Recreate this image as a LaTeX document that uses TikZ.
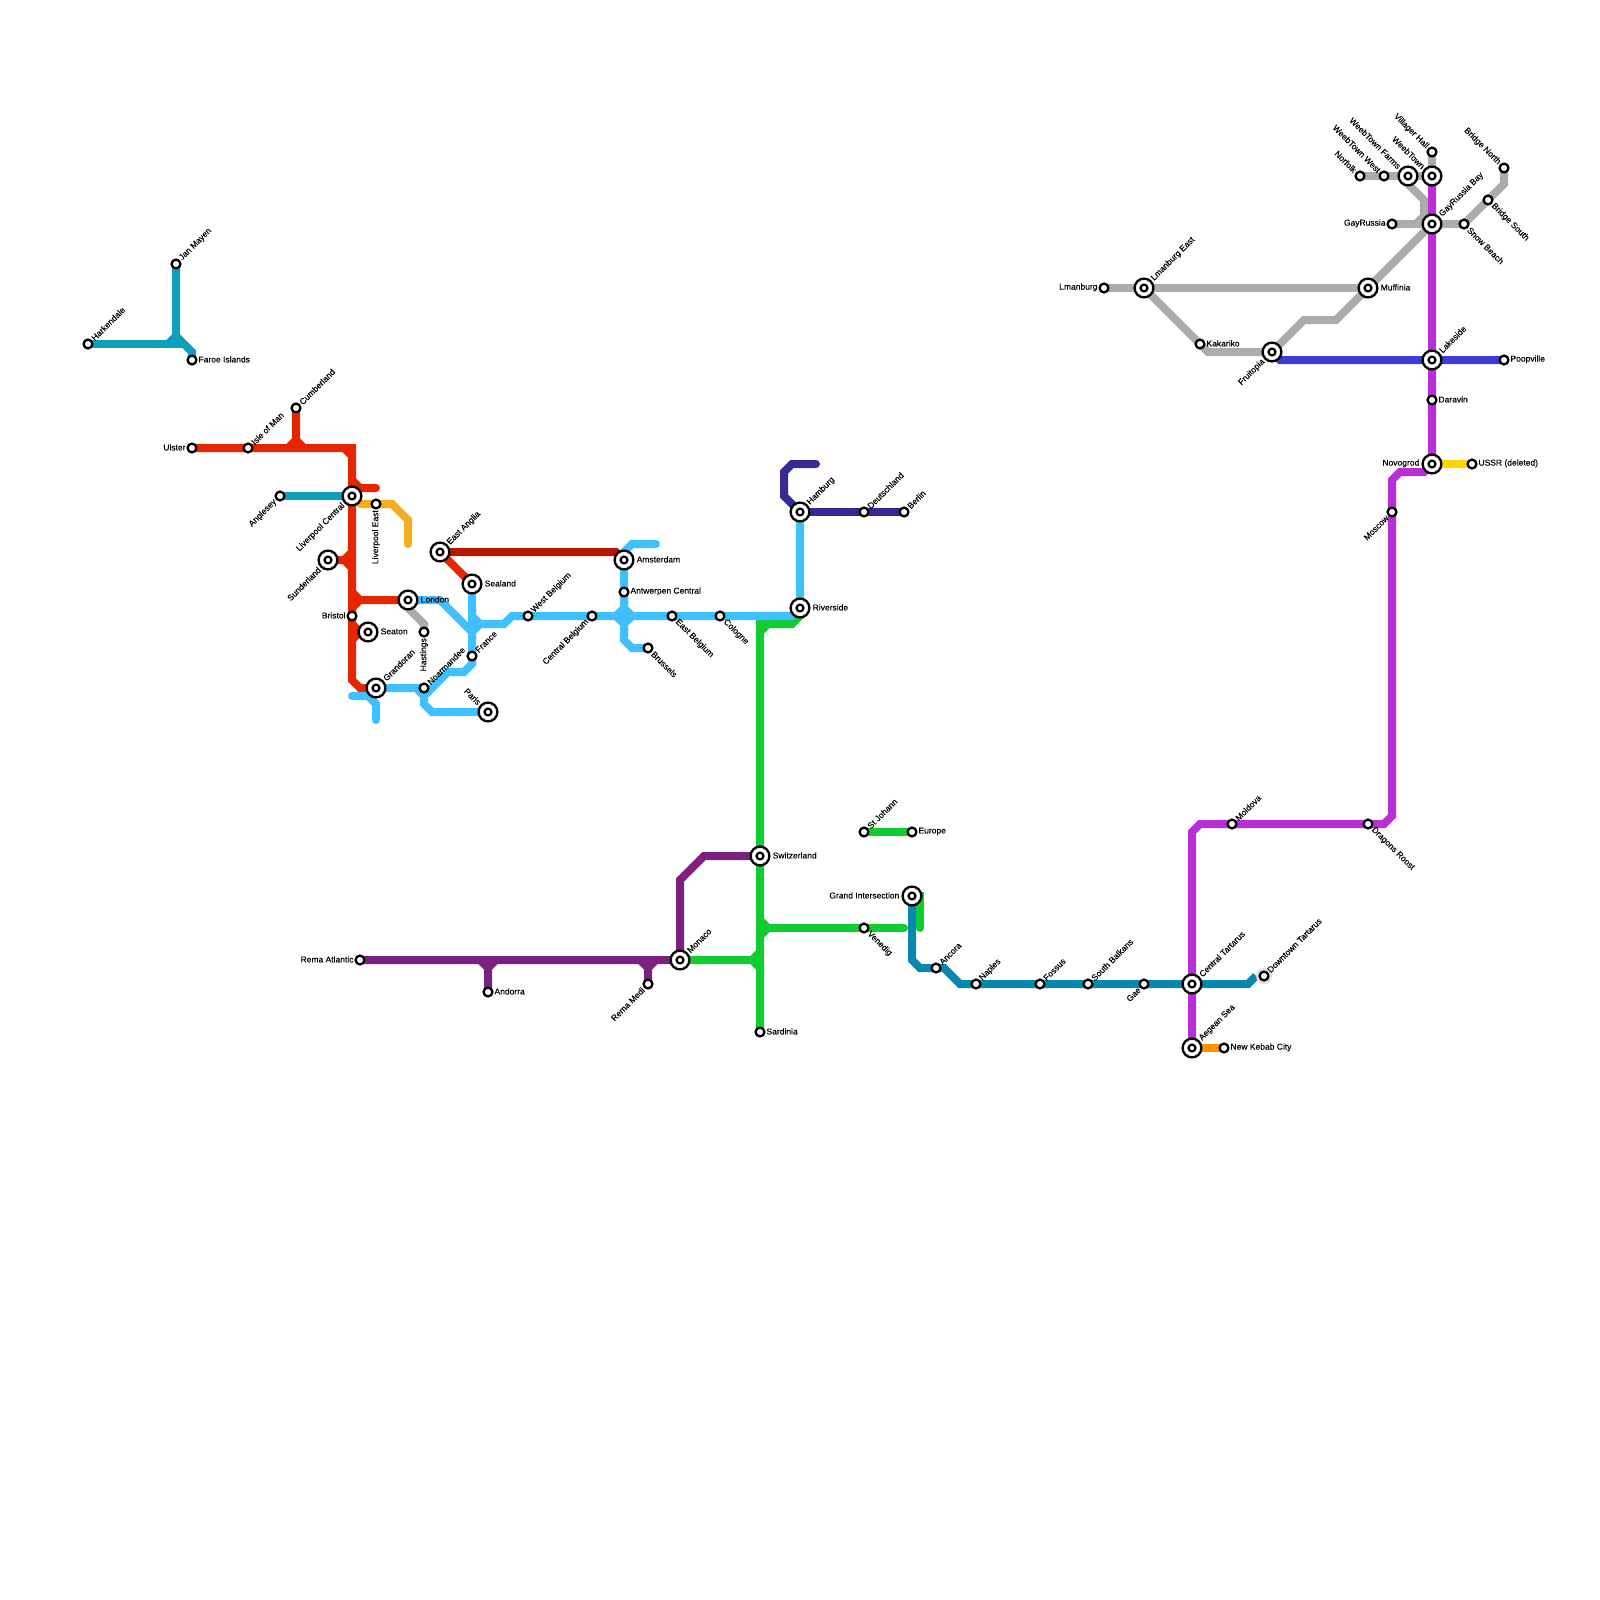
\documentclass[tikz,border=0pt]{standalone}
\usepackage{fontspec}
\setmainfont{Liberation Sans}[FakeBold=0.15]
\usetikzlibrary{backgrounds}
\definecolor{cteal}{RGB}{12,160,187}
\definecolor{cred}{RGB}{230,38,0}
\definecolor{cdred}{RGB}{180,25,0}
\definecolor{camber}{RGB}{245,175,30}
\definecolor{csky}{RGB}{64,192,255}
\definecolor{cgrey}{RGB}{172,172,172}
\definecolor{cnavy}{RGB}{52,45,143}
\definecolor{cgreen}{RGB}{18,204,52}
\definecolor{cplum}{RGB}{122,33,128}
\definecolor{csteel}{RGB}{10,135,175}
\definecolor{cmag}{RGB}{185,47,214}
\definecolor{croyal}{RGB}{60,60,210}
\definecolor{cyell}{RGB}{255,212,0}
\definecolor{corange}{RGB}{255,146,0}

\begin{document}
\begin{tikzpicture}[
  x=1pt,y=-1pt,
  stn/.style={draw=black,circle,fill=white,line width=2.3pt,minimum size=8.8pt,inner sep=0pt},
  hub/.style={stn,minimum size=18.8pt,
    path picture={\draw[line width=2.3pt] (path picture bounding box.center) circle (3.4pt);}},
  halo/.style={circle,fill=black!13,minimum size=16pt,inner sep=0pt},
  lab/.style={font=\fontsize{8.5}{10}\selectfont,inner sep=0pt,text=black},
  lbe/.style={lab,anchor=west,xshift=#1,yshift=.6pt},
  lbe/.default=6.3pt,
  lbw/.style={lab,anchor=east,xshift=-#1,yshift=.6pt},
  lbw/.default=6.3pt,
  lbne/.style={lab,rotate=45,anchor=west,xshift=#1},
  lbne/.default=6.6pt,
  lbse/.style={lab,rotate=-45,anchor=west,xshift=#1},
  lbse/.default=6.6pt,
  lbsw/.style={lab,rotate=45,anchor=east,xshift=-#1},
  lbsw/.default=6.6pt,
  lbnw/.style={lab,rotate=-45,anchor=east,xshift=-#1},
  lbnw/.default=6.6pt,
  lbv/.style={lab,rotate=90,anchor=east,xshift=-6pt},
  ln/.style={line width=8pt},
  stub/.style={ln,line cap=round}
]
\useasboundingbox (0,0) rectangle (1600,1600);

% north west
\node[stn] (hark) at (88,344) {};      \node[lbne] (harkl) at (hark) {Harkendale};
\node[stn] (jan) at (176,264) {};      \node[lbne] (janl) at (jan) {Jan Mayen};
\node[stn] (faroe) at (192,360) {};    \node[lbe] (faroel) at (faroe) {Faroe Islands};
\node[stn] (ulster) at (192,448) {};   \node[lbw] (ulsterl) at (ulster) {Ulster};
\node[stn] (isle) at (248,448) {};     \node[lbne] (islel) at (isle) {Isle of Man};
\node[stn] (cumb) at (296,408) {};     \node[lbne] (cumbl) at (cumb) {Cumberland};
\node[stn] (angl) at (280,496) {};     \node[lbsw] (angll) at (angl) {Anglesey};
\node[hub] (livc) at (352,496) {};     \node[lbsw=12pt] (livcl) at (livc) {Liverpool Central};
\node[stn] (live) at (376,504) {};     \node[lbv] (livel) at (live) {Liverpool East};
\node[hub] (sund) at (328,560) {};     \node[lbsw=12pt] (sundl) at (sund) {Sunderland};
\node[hub] (london) at (408,600) {};   \node[lbe=12.5pt] (londonl) at (london) {London};
\node[stn] (bristol) at (352,616) {};  \node[lbw] (bristoll) at (bristol) {Bristol};
\node[hub] (seat) at (368,632) {};     \node[lbe=12.5pt] (seatl) at (seat) {Seaton};
\node[stn] (hast) at (424,632) {};     \node[lbv] (hastl) at (hast) {Hastings};
\node[hub] (grand) at (376,688) {};    \node[lbne=12pt] (grandl) at (grand) {Grandoran};
\node[stn] (norm) at (424,688) {};     \node[lbne] (norml) at (norm) {Noarmandee};
\node[hub] (paris) at (488,712) {};    \node[lbnw=12pt] (parisl) at (paris) {Paris};
\node[hub] (eang) at (440,552) {};     \node[lbne=12pt] (eangl) at (eang) {East Anglia};
\node[hub] (seal) at (472,584) {};     \node[lbe=12.5pt] (seall) at (seal) {Sealand};
\node[stn] (france) at (472,656) {};   \node[lbne] (francel) at (france) {France};
\node[stn] (wbel) at (528,616) {};     \node[lbne] (wbell) at (wbel) {West Belgium};
\node[stn] (cbel) at (592,616) {};     \node[lbsw] (cbell) at (cbel) {Central Belgium};
\node[hub] (amst) at (624,560) {};     \node[lbe=12.5pt] (amstl) at (amst) {Amsterdam};
\node[stn] (antw) at (624,592) {};     \node[lbe] (antwl) at (antw) {Antwerpen Central};
\node[stn] (brus) at (648,648) {};     \node[lbse] (brusl) at (brus) {Brussels};
\node[stn] (ebel) at (672,616) {};     \node[lbse] (ebell) at (ebel) {East Belgium};
\node[stn] (colg) at (720,616) {};     \node[lbse] (colgl) at (colg) {Cologne};
\node[hub] (river) at (800,608) {};    \node[lbe=12.5pt] (riverl) at (river) {Riverside};
\node[hub] (hamb) at (800,512) {};     \node[lbne=12pt] (hambl) at (hamb) {Hamburg};
\node[stn] (deut) at (864,512) {};     \node[lbne] (deutl) at (deut) {Deutschland};
\node[stn] (berl) at (904,512) {};     \node[lbne] (berll) at (berl) {Berlin};

% south
\node[stn] (rata) at (360,960) {};     \node[lbw] (ratal) at (rata) {Rema Atlantic};
\node[stn] (andr) at (488,992) {};     \node[lbe] (andrl) at (andr) {Andorra};
\node[stn] (rmed) at (648,984) {};     \node[lbsw] (rmedl) at (rmed) {Rema Medi};
\node[hub] (mona) at (680,960) {};     \node[lbne=12pt] (monal) at (mona) {Monaco};
\node[hub] (swit) at (760,856) {};     \node[lbe=12.5pt] (switl) at (swit) {Switzerland};
\node[stn] (sard) at (760,1032) {};    \node[lbe] (sardl) at (sard) {Sardinia};
\node[stn] (sjoh) at (864,832) {};     \node[lbne] (sjohl) at (sjoh) {St Johann};
\node[stn] (euro) at (912,832) {};     \node[lbe] (eurol) at (euro) {Europe};
\node[stn] (vene) at (864,928) {};     \node[lbse] (venel) at (vene) {Venedig};
\node[hub] (gint) at (912,896) {};     \node[lbw=12.5pt] (gintl) at (gint) {Grand Intersection};
\node[stn] (anco) at (936,968) {};     \node[lbne] (ancol) at (anco) {Ancora};
\node[stn] (napl) at (976,984) {};     \node[lbne] (napll) at (napl) {Naples};
\node[stn] (foss) at (1040,984) {};    \node[lbne] (fossl) at (foss) {Fossus};
\node[stn] (sbal) at (1088,984) {};    \node[lbne] (sball) at (sbal) {South Balkans};
\node[stn] (gae) at (1144,984) {};     \node[lbsw] (gael) at (gae) {Gae};
\node[hub] (ctar) at (1192,984) {};    \node[lbne=12pt] (ctarl) at (ctar) {Central Tartarus};
\node[halo] (dtarh) at (1264,976) {};
\node[stn] (dtar) at (1264,976) {};    \node[lbne] (dtarl) at (dtar) {Downtown Tartarus};
\node[hub] (aege) at (1192,1048) {};   \node[lbne=12pt] (aegel) at (aege) {Aegean Sea};
\node[stn] (nkeb) at (1224,1048) {};   \node[lbe] (nkebl) at (nkeb) {New Kebab City};
\node[stn] (mold) at (1232,824) {};    \node[lbne] (moldl) at (mold) {Moldova};
\node[stn] (drag) at (1368,824) {};    \node[lbse] (dragl) at (drag) {Dragons Roost};

% north east
\node[stn] (mosc) at (1392,512) {};    \node[lbsw] (moscl) at (mosc) {Moscow};
\node[hub] (novo) at (1432,464) {};    \node[lbw=12.5pt] (novol) at (novo) {Novogrod};
\node[stn] (ussr) at (1472,464) {};    \node[lbe] (ussrl) at (ussr) {USSR (deleted)};
\node[stn] (dara) at (1432,400) {};    \node[lbe] (daral) at (dara) {Daravin};
\node[hub] (lake) at (1432,360) {};    \node[lbne=12pt] (lakel) at (lake) {Lakeside};
\node[stn] (poop) at (1504,360) {};    \node[lbe] (poopl) at (poop) {Poopville};
\node[hub] (frui) at (1272,352) {};    \node[lbsw=12pt] (fruil) at (frui) {Fruitopia};
\node[stn] (kaka) at (1200,344) {};    \node[lbe] (kakal) at (kaka) {Kakariko};
\node[stn] (lman) at (1104,288) {};    \node[lbw] (lmanl) at (lman) {Lmanburg};
\node[hub] (lmae) at (1144,288) {};    \node[lbne=12pt] (lmael) at (lmae) {Lmanburg East};
\node[hub] (muff) at (1368,288) {};    \node[lbe=12.5pt] (muffl) at (muff) {Muffinia};
\node[stn] (gayr) at (1392,224) {};    \node[lbw] (gayrl) at (gayr) {GayRussia};
\node[hub] (gayb) at (1432,224) {};    \node[lbne=12pt] (gaybl) at (gayb) {GayRussia Bay};
\node[stn] (snow) at (1464,224) {};    \node[lbse] (snowl) at (snow) {Snow Beach};
\node[stn] (bsou) at (1488,200) {};    \node[lbse] (bsoul) at (bsou) {Bridge South};
\node[stn] (bnor) at (1504,168) {};    \node[lbnw] (bnorl) at (bnor) {Bridge North};
\node[stn] (norf) at (1360,176) {};    \node[lbnw] (norfl) at (norf) {Norfolk};
\node[stn] (wtwe) at (1384,176) {};    \node[lbnw] (wtwel) at (wtwe) {WeebTown West};
\node[hub] (wtfa) at (1408,176) {};    \node[lbnw=12pt] (wtfal) at (wtfa) {WeebTown Farms};
\node[hub] (wtow) at (1432,176) {};    \node[lbnw=12pt] (wtowl) at (wtow) {WeebTown};
\node[stn] (vill) at (1432,152) {};    \node[lbnw] (villl) at (vill) {Villager Hall};

% junctions and free ends
\coordinate (jhark) at (176,336);
\coordinate (jharke) at (184,344);
\coordinate (jcumb) at (296,440);
\coordinate (jredc) at (344,448);
\coordinate (jreds) at (352,480);
\coordinate (eredstub) at (376,488);
\coordinate (jsund) at (344,560);
\coordinate (jlond) at (360,600);
\coordinate (jseat) at (360,632);
\coordinate (eamb) at (360,504);
\coordinate (eambs) at (408,544);
\coordinate (eskyw) at (352,696);
\coordinate (eskys) at (376,720);
\coordinate (jskyn) at (424,696);
\coordinate (jskyf) at (472,632);
\coordinate (jskyc) at (480,624);
\coordinate (eskyam) at (656,544);
\coordinate (enavy) at (816,464);
\coordinate (jgrec) at (768,624);
\coordinate (jgrem) at (752,960);
\coordinate (jgrev) at (768,928);
\coordinate (egrev) at (904,928);
\coordinate (egrei) at (920,928);
\coordinate (jandr) at (488,968);
\coordinate (jrmed) at (648,968);
\coordinate (esteel) at (1256,976);
\coordinate (jgreyl) at (1360,288);
\coordinate (jgreyw) at (1400,176);
\coordinate (jgreyv) at (1424,216);
\coordinate (jroyal) at (1280,360);

\begin{pgfonlayer}{background}
% grey
\draw[ln,cgrey] (lman.center) -- (lmae.center) -- (muff.center);
\draw[ln,cgrey] (jgreyl) -- ++(8,8);
\draw[ln,cgrey] (lmae.center) -- (kaka.center) -- (1208,352) -- (frui.center) -- (1304,320) -- (1336,320) -- (gayb.center);
\draw[ln,cgrey] (norf.center) -- (wtwe.center) -- (wtfa.center) -- (wtow.center) -- (vill.center);
\draw[ln,cgrey] (jgreyw) -- (1424,200) -- (jgreyv) -- ++(-8,8);
\draw[ln,cgrey] (jgreyv) -- (gayb.center);
\draw[ln,cgrey] (gayr.center) -- (gayb.center) -- (snow.center) -- (bsou.center) -- (1504,184) -- (bnor.center);
\draw[ln,cgrey] (london.center) -- (408,608) -- (424,624) -- (hast.center);
% teal
\draw[ln,cteal] (jan.center) -- (jhark) -- (192,352) -- (faroe.center);
\draw[ln,cteal] (hark.center) -- (jharke);
\draw[ln,cteal] (jhark) -- ++(-8,8);
\draw[ln,cteal] (angl.center) -- (livc.center);
% amber
\draw[stub,camber] (eamb) -- (live.center) -- (392,504) -- (408,520) -- (eambs);
% red
\draw[ln,cred] (ulster.center) -- (isle.center) -- (352,448) -- (bristol.center) -- (352,680) -- (360,688) -- (grand.center);
\draw[ln,cred] (jredc) -- ++(8,8);
\draw[ln,cred] (cumb.center) -- (jcumb) -- ++(-8,8);
\draw[ln,cred] (jcumb) -- ++(8,8);
\draw[stub,cred] (jreds) -- (360,488) -- (eredstub);
\draw[ln,cred] (sund.center) -- (jsund) -- ++(8,-8);
\draw[ln,cred] (jsund) -- ++(8,8);
\draw[ln,cred] (london.center) -- (jlond) -- ++(-8,-8);
\draw[ln,cred] (jlond) -- ++(-8,8);
\draw[ln,cred] (seat.center) -- (jseat) -- ++(-8,-8);
\draw[ln,cred] (jseat) -- ++(-8,8);
\draw[ln,cred] (eang.center) -- (seal.center);
\draw[ln,cdred] (eang.center) -- (616,552) -- (amst.center);
% green
\draw[ln,cgreen] (river.center) -- (800,616) -- (792,624) -- (760,624) -- (swit.center) -- (sard.center);
\draw[ln,cgreen] (jgrec) -- ++(-8,8);
\draw[ln,cgreen] (mona.center) -- (jgrem) -- ++(8,-8);
\draw[ln,cgreen] (jgrem) -- ++(8,8);
\draw[ln,cgreen] (jgrev) -- ++(-8,-8);
\draw[ln,cgreen] (jgrev) -- ++(-8,8);
\draw[stub,cgreen] (jgrev) -- (vene.center) -- (egrev);
\draw[stub,cgreen] (gint.center) -- (920,896) -- (egrei);
\draw[ln,cgreen] (sjoh.center) -- (euro.center);
% sky
\draw[ln,csky] (grand.center) -- (norm.center) -- (416,688) -- (jskyn) -- (424,704) -- (432,712) -- (paris.center);
\draw[ln,csky] (jskyn) -- (448,672) -- (464,672) -- (472,664) -- (france.center) -- (seal.center);
\draw[ln,csky] (london.center) -- (440,600) -- (jskyf) -- (jskyc) -- (472,616);
\draw[ln,csky] (472,624) -- (504,624) -- (512,616) -- (wbel.center) -- (cbel.center) -- (ebel.center) -- (colg.center) -- (792,616) -- (river.center) -- (hamb.center);
\draw[stub,csky] (eskyw) -- (368,696) -- (376,704) -- (eskys);
\draw[ln,csky] (amst.center) -- (antw.center) -- (624,640) -- (632,648) -- (brus.center);
\draw[stub,csky] (amst.center) -- (624,552) -- (632,544) -- (eskyam);
\draw[ln,csky] (624,608) -- (632,616) -- (624,624) -- (616,616) -- cycle;
% navy
\draw[ln,cnavy] (hamb.center) -- (deut.center) -- (berl.center);
\draw[stub,cnavy] (hamb.center) -- (784,496) -- (784,472) -- (792,464) -- (enavy);
% plum
\draw[ln,cplum] (rata.center) -- (mona.center) -- (680,880) -- (704,856) -- (swit.center);
\draw[ln,cplum] (andr.center) -- (jandr) -- ++(-8,-8);
\draw[ln,cplum] (jandr) -- ++(8,-8);
\draw[ln,cplum] (rmed.center) -- (jrmed) -- ++(-8,-8);
\draw[ln,cplum] (jrmed) -- ++(8,-8);
% steel
\draw[ln,csteel] (gint.center) -- (912,960) -- (920,968) -- (anco.center) -- (944,968) -- (960,984) -- (napl.center) -- (foss.center) -- (sbal.center) -- (gae.center) -- (ctar.center) -- (1248,984) -- (esteel);
% magenta
\draw[ln,cmag] (aege.center) -- (ctar.center) -- (1192,832) -- (1200,824) -- (mold.center) -- (drag.center) -- (1384,824) -- (1392,816) -- (mosc.center) -- (1392,480) -- (1400,472) -- (1424,472) -- (novo.center) -- (dara.center) -- (lake.center) -- (gayb.center) -- (wtow.center);
\draw[ln,croyal] (frui.center) -- (jroyal) -- (lake.center) -- (poop.center);
\draw[ln,cyell] (novo.center) -- (ussr.center);
\draw[ln,corange] (aege.center) -- (nkeb.center);
\end{pgfonlayer}
\end{tikzpicture}
\end{document}
